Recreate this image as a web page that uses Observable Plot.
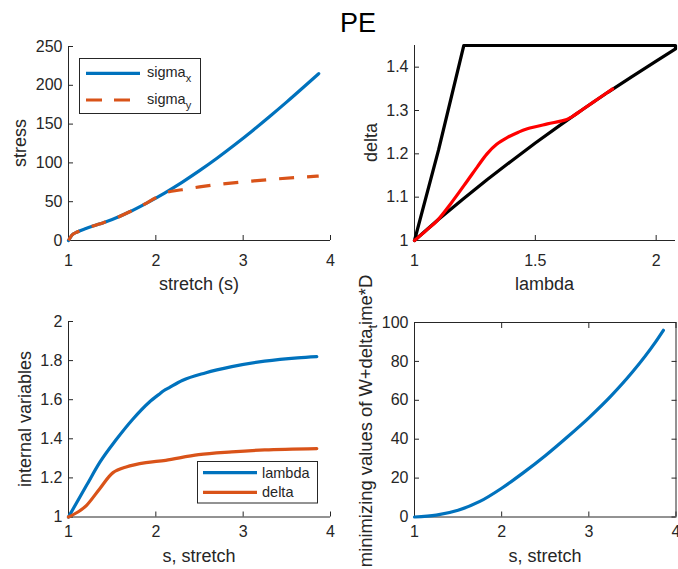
<!DOCTYPE html>
<html>
<head>
<meta charset="utf-8">
<script src="https://cdn.jsdelivr.net/npm/d3@7"></script>
<script src="https://cdn.jsdelivr.net/npm/@observablehq/plot@0.6"></script>
<style>
  html, body { margin: 0; padding: 0; background: #fff; }
  #fig { position: relative; width: 678px; height: 569px; overflow: hidden; background: #fff;
         font-family: "Liberation Sans", Arial, Helvetica, sans-serif; }
  .layer { position: absolute; left: 0; top: 0; }
</style>
</head>
<body>
<div id="fig"></div>
<script>
// ---------------- data ----------------
const figTitle = "PE";

// panel 1: stress vs stretch
const stretchTicks = [1, 2, 3, 4];
const stressTicks = [0, 50, 100, 150, 200, 250];
const sSigmaX = [1, 1.04, 1.1, 1.2, 1.3, 1.4, 1.5, 1.7, 1.9, 2.1, 2.3, 2.5, 2.7, 2.9, 3.1, 3.3, 3.5, 3.7, 3.865];
const sigmaX  = [0, 7, 11, 15.5, 19.3, 23, 27, 37, 48.6, 61.2, 75, 90, 106, 123, 140.8, 159.4, 178.6, 198.4, 215];
const sSigmaY = [1, 1.04, 1.1, 1.2, 1.3, 1.4, 1.5, 1.7, 1.9, 2.1, 2.3, 2.5, 2.8, 3.1, 3.4, 3.865];
const sigmaY  = [0, 7, 11, 15.5, 19.3, 23, 27, 37, 48.6, 61.2, 65.4, 69, 73.3, 76.6, 79.5, 83];

// panel 2: delta vs lambda
const lambdaTicks = [1, 1.5, 2];
const deltaTicks = [1, 1.1, 1.2, 1.3, 1.4];
const boundLambda = [1, 1.1, 1.204, 2.08, 2.08, 2.0, 1.9, 1.8, 1.7, 1.6, 1.5, 1.4, 1.3, 1.2, 1.1, 1];
const boundDelta  = [1, 1.21, 1.45, 1.45, 1.442, 1.414, 1.378, 1.342, 1.304, 1.265, 1.225, 1.183, 1.14, 1.095, 1.049, 1];
const pathLambda = [1, 1.05, 1.094, 1.15, 1.219, 1.26, 1.30, 1.34, 1.385, 1.43, 1.467, 1.55, 1.6, 1.63, 1.65, 1.7, 1.76, 1.82];
const pathDelta  = [1, 1.024, 1.046, 1.085, 1.138, 1.17, 1.2, 1.222, 1.238, 1.25, 1.258, 1.269, 1.275, 1.279, 1.285, 1.304, 1.327, 1.35];

// panel 3: internal variables vs stretch
const internalTicks = [1, 1.2, 1.4, 1.6, 1.8, 2];
const sLambda = [1, 1.207, 1.358, 1.547, 1.736, 1.924, 2.05, 2.094, 2.15, 2.302, 2.566, 2.87, 3.246, 3.623, 3.843];
const lambdaV = [1, 1.162, 1.279, 1.396, 1.500, 1.587, 1.632, 1.647, 1.661, 1.698, 1.737, 1.769, 1.797, 1.814, 1.820];
const sDelta  = [1, 1.113, 1.207, 1.358, 1.51, 1.66, 1.887, 2.113, 2.49, 2.87, 3.246, 3.843];
const deltaV  = [1, 1.027, 1.06, 1.145, 1.227, 1.256, 1.278, 1.29, 1.319, 1.333, 1.343, 1.35];

// panel 4: minimizing values vs stretch
const minTicks = [0, 20, 40, 60, 80, 100];
const sMin = [1, 1.25, 1.5, 1.75, 2, 2.25, 2.5, 2.75, 3, 3.25, 3.5, 3.75, 3.855];
const minV = [0, 1.0, 3.5, 8.0, 14.8, 22.8, 31.5, 41, 51, 62, 74.5, 89, 96];

// legend texts
const legend1 = [["sigma", "x"], ["sigma", "y"]];
const legend3 = ["lambda", "delta"];

// ---------------- drawing ----------------
const W = 678, H = 569;
const AX = "#262626";
const BLUE = "#0072BD", ORANGE = "#D95319", RED = "#FF0000", BLACK = "#000000";
const FONT = '"Liberation Sans", Arial, Helvetica, sans-serif';
const zip = (xs, ys) => xs.map((x, i) => ({x, y: ys[i]}));

function panel(o) {
  const marks = [
    Plot.ruleY([o.yDomain[0]], {stroke: AX, strokeWidth: 1}),
    Plot.ruleX([o.xDomain[0]], {stroke: AX, strokeWidth: 1}),
    Plot.axisX(o.xTicks, {anchor: "bottom", tickSize: -5, tickPadding: o.xPad, tickFormat: d => String(d), label: null, stroke: AX, fill: AX}),
    Plot.axisY(o.yTicks, {anchor: "left", tickSize: -5, tickPadding: 11, tickFormat: d => String(d), label: null, stroke: AX, fill: AX})
  ];
  if (o.box) {
    marks.push(
      Plot.ruleY([o.yDomain[1]], {stroke: AX, strokeWidth: 1}),
      Plot.ruleX([o.xDomain[1]], {stroke: AX, strokeWidth: 1}),
      Plot.axisX(o.xTicks, {anchor: "top", tickSize: -5, tickFormat: () => "", label: null, stroke: AX}),
      Plot.axisY(o.yTicks, {anchor: "right", tickSize: -5, tickFormat: () => "", label: null, stroke: AX})
    );
  }
  marks.push(...o.marks);
  const svg = Plot.plot({
    width: W, height: H,
    marginLeft: o.left, marginRight: W - o.right, marginTop: o.top, marginBottom: H - o.bottom,
    x: {type: "linear", domain: o.xDomain},
    y: {type: "linear", domain: o.yDomain},
    style: {background: "transparent", fontFamily: FONT, fontSize: "16px", color: AX, overflow: "visible"},
    marks
  });
  const wrap = document.createElement("div");
  wrap.className = "layer";
  wrap.appendChild(svg);
  return wrap;
}

const fig = document.getElementById("fig");
const lw = 3.2;

fig.appendChild(panel({
  left: 68, right: 330, top: 46, bottom: 240, xPad: 19,
  xDomain: [1, 4], yDomain: [0, 250], xTicks: stretchTicks, yTicks: stressTicks,
  marks: [
    Plot.line(zip(sSigmaX, sigmaX), {x: "x", y: "y", stroke: BLUE, strokeWidth: lw, curve: "monotone-x"}),
    Plot.line(zip(sSigmaY, sigmaY), {x: "x", y: "y", stroke: ORANGE, strokeWidth: lw, curve: "monotone-x", strokeDasharray: "15,13", strokeLinecap: "butt"})
  ]
}));

fig.appendChild(panel({
  left: 414, right: 675, top: 45, bottom: 240, xPad: 19,
  xDomain: [1, 2.08], yDomain: [1, 1.45], xTicks: lambdaTicks, yTicks: deltaTicks,
  marks: [
    Plot.line(zip(boundLambda, boundDelta), {x: "x", y: "y", stroke: BLACK, strokeWidth: lw, curve: "linear"}),
    Plot.line(zip(pathLambda, pathDelta), {x: "x", y: "y", stroke: RED, strokeWidth: lw, curve: "catmull-rom"})
  ]
}));

fig.appendChild(panel({
  left: 68, right: 330, top: 321, bottom: 516.5, xPad: 14,
  xDomain: [1, 4], yDomain: [1, 2], xTicks: stretchTicks, yTicks: internalTicks,
  marks: [
    Plot.line(zip(sLambda, lambdaV), {x: "x", y: "y", stroke: BLUE, strokeWidth: lw, curve: "monotone-x"}),
    Plot.line(zip(sDelta, deltaV), {x: "x", y: "y", stroke: ORANGE, strokeWidth: lw, curve: "catmull-rom"})
  ]
}));

fig.appendChild(panel({
  left: 414, right: 675.5, top: 322, bottom: 516.5, xPad: 14, box: true,
  xDomain: [1, 4], yDomain: [0, 100], xTicks: stretchTicks, yTicks: minTicks,
  marks: [
    Plot.line(zip(sMin, minV), {x: "x", y: "y", stroke: BLUE, strokeWidth: lw, curve: "monotone-x"})
  ]
}));

// ---------------- overlay: title, axis labels, legends ----------------
const ns = "http://www.w3.org/2000/svg";
const ov = document.createElementNS(ns, "svg");
ov.setAttribute("width", W); ov.setAttribute("height", H);
ov.setAttribute("class", "layer");
ov.style.fontFamily = FONT;
ov.style.overflow = "hidden";
fig.appendChild(ov);

function el(tag, attrs, parent = ov) {
  const e = document.createElementNS(ns, tag);
  for (const k in attrs) e.setAttribute(k, attrs[k]);
  parent.appendChild(e);
  return e;
}
function txt(str, attrs, parent = ov) {
  const t = el("text", attrs, parent);
  t.textContent = str;
  return t;
}

txt(figTitle, {x: 358, y: 32, "text-anchor": "middle", "font-size": 27, fill: "#000"});

const LF = 18;
txt("stretch (s)", {x: 199, y: 289.5, "text-anchor": "middle", "font-size": LF, fill: AX});
txt("lambda", {x: 544.5, y: 289.5, "text-anchor": "middle", "font-size": LF, fill: AX});
txt("s, stretch", {x: 199, y: 561.5, "text-anchor": "middle", "font-size": LF, fill: AX});
txt("s, stretch", {x: 545, y: 561.5, "text-anchor": "middle", "font-size": LF, fill: AX});
txt("stress", {transform: "translate(26,143) rotate(-90)", "text-anchor": "middle", "font-size": LF, fill: AX});
txt("delta", {transform: "translate(377,142.5) rotate(-90)", "text-anchor": "middle", "font-size": LF, fill: AX});
txt("internal variables", {transform: "translate(31,419) rotate(-90)", "text-anchor": "middle", "font-size": LF, fill: AX});
{
  const t = el("text", {transform: "translate(372,421) rotate(-90)", "text-anchor": "middle", "font-size": 18.4, fill: AX});
  const a = el("tspan", {}, t); a.textContent = "minimizing values of W+delta";
  const b = el("tspan", {dy: 5, "font-size": 13}, t); b.textContent = "t";
  const c = el("tspan", {dy: -5}, t); c.textContent = "ime*D";
}

// legend panel 1
el("rect", {x: 79.5, y: 58.5, width: 121, height: 55, fill: "#fff", stroke: AX, "stroke-width": 1});
const l1y = [73.3, 100];
el("line", {x1: 86, x2: 140, y1: l1y[0], y2: l1y[0], stroke: BLUE, "stroke-width": lw});
el("line", {x1: 86, x2: 140, y1: l1y[1], y2: l1y[1], stroke: ORANGE, "stroke-width": lw, "stroke-dasharray": "16,12"});
legend1.forEach(([base, sub], i) => {
  const t = el("text", {x: 147, y: l1y[i] + 3.5, "font-size": 14.5, fill: AX});
  const a = el("tspan", {}, t); a.textContent = base;
  const b = el("tspan", {dy: 5, "font-size": 11}, t); b.textContent = sub;
});

// legend panel 3
el("rect", {x: 197.5, y: 461.5, width: 120, height: 41.5, fill: "#fff", stroke: AX, "stroke-width": 1});
const l3y = [472.7, 492.3];
const l3c = [BLUE, ORANGE];
legend3.forEach((name, i) => {
  el("line", {x1: 203, x2: 257, y1: l3y[i], y2: l3y[i], stroke: l3c[i], "stroke-width": lw});
  txt(name, {x: 262, y: l3y[i] + 5, "font-size": 14.5, fill: AX});
});
</script>
</body>
</html>
